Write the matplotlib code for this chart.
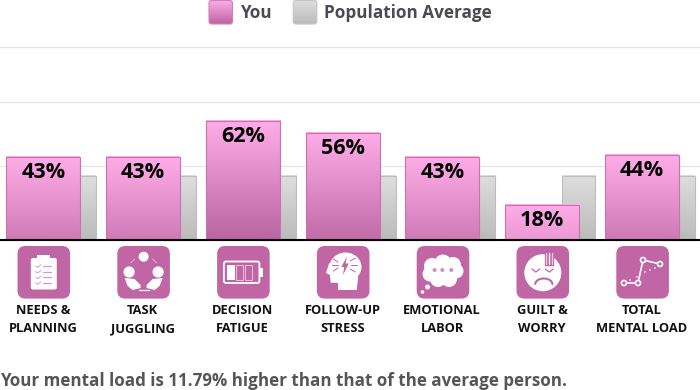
#!/usr/bin/python3
import numpy as np
import matplotlib
matplotlib.use("Agg")
import matplotlib.pyplot as plt
from matplotlib.colors import LinearSegmentedColormap
from matplotlib.patches import Circle, Ellipse, FancyBboxPatch, Polygon, Rectangle

plt.rcParams['font.family'] = ['Open Sans', 'DejaVu Sans']

# data
categories = ["NEEDS &\nPLANNING", "TASK\nJUGGLING", "DECISION\nFATIGUE", "FOLLOW-UP\nSTRESS",
              "EMOTIONAL\nLABOR", "GUILT &\nWORRY", "TOTAL\nMENTAL LOAD"]
you = [43, 43, 62, 56, 43, 18, 44]
average = [33, 33, 33, 33, 33, 33, 33]
gridlines = [38.5, 72, 100.8]
series_names = ["You", "Population Average"]
summary = "Your mental load is 11.79% higher than that of the average person."

PINK = '#c066a5'
pink_map = LinearSegmentedColormap.from_list("pink", ['#ffade8', '#bb65a2'])
grey_map = LinearSegmentedColormap.from_list("grey", ['#dedede', '#bbbbbb'])

fig = plt.figure(figsize=(7, 3.9), dpi=100)

# A. main axes, scaled so 1 category = 99.8 px and 1 % = 1.91 px
ax = fig.add_axes([0, 0, 1, 1])
xlim = (-43.3 / 99.8, (700 - 43.3) / 99.8)
ylim = (-(390 - 239.5) / 1.91, 239.5 / 1.91)
ax.axis('off')


def gradient_bar(x0, x1, value, cmap, stop, edge, z):
    grad = np.linspace(0, stop, 128).reshape(-1, 1)
    ax.imshow(grad, extent=(x0, x1, 0, value), aspect='auto', cmap=cmap, vmin=0, vmax=1,
              origin='upper', zorder=z, interpolation='bilinear')
    ax.add_patch(Rectangle((x0, 0), x1 - x0, value, fill=False, edgecolor=edge, lw=0.8, zorder=z + 0.1))


for g in gridlines:
    ax.axhline(g, color='#e3e3e3', lw=0.9, zorder=1)

you_w = 74 / 99.8
avg_w = 33 / 99.8
avg_off = 36.4 / 99.8
for i, (y, a) in enumerate(zip(you, average)):
    gradient_bar(i + avg_off - avg_w / 2, i + avg_off + avg_w / 2, a, grey_map, 1, '#bdbdbd', 2)
    gradient_bar(i - you_w / 2, i + you_w / 2, y, pink_map, y / 62, '#c873b0', 3)
    ax.text(i, y - 8.1, f"{y}%", ha='center', va='center', fontsize=15.6, fontweight='bold',
            color='black', zorder=5)

ax.axhline(0, color='black', lw=1.5, zorder=6)
ax.set_xlim(xlim)
ax.set_ylim(ylim)

# B. overlay in pixel coordinates for legend, icons and captions
ov = fig.add_axes([0, 0, 1, 1], facecolor='none')
ov.set_xlim(0, 700)
ov.set_ylim(390, 0)
ov.axis('off')


def swatch(x, cmap, edge):
    box = FancyBboxPatch((x, 0.5), 23.5, 23.5, boxstyle="round,pad=0,rounding_size=2.5",
                         fill=False, edgecolor=edge, lw=0.8, zorder=3)
    ov.add_patch(box)
    img = ov.imshow(np.linspace(0, 1, 64).reshape(-1, 1), extent=(x, x + 23.5, 24, 0.5), aspect='auto',
                    cmap=cmap, vmin=0, vmax=1, origin='upper', zorder=2)
    img.set_clip_path(box)


swatch(209, pink_map, '#d080b8')
swatch(293.3, grey_map, '#c4c4c4')
ov.text(240, 13.5, series_names[0], va='center', fontsize=12.35, fontweight='bold', color='#4a4a55')
ov.text(324, 13.5, series_names[1], va='center', fontsize=12.35, fontweight='bold', color='#4a4a55')


def w(patch):
    patch.set_facecolor('white')
    patch.set_edgecolor('none')
    patch.set_zorder(3)
    ov.add_patch(patch)


def stroke(xs, ys, lw=1.2, color='white'):
    ov.plot(xs, ys, color=color, lw=lw, zorder=4, solid_capstyle='round')


def icon_clipboard(c):
    w(FancyBboxPatch((c - 13, 258), 26, 31.5, boxstyle="round,pad=0,rounding_size=2"))
    w(Rectangle((c - 6.5, 254.5), 13, 5))
    for k in range(4):
        y = 266 + k * 5.7
        stroke([c - 8, c - 6, c - 3], [y, y + 1.3, y - 1.3], 0.7, '#d79ac4')
        stroke([c - 0.5, c + 7], [y, y], 0.9, '#d79ac4')


def icon_juggling(c):
    w(Circle((c, 256.7), 5))
    w(Circle((c - 14.5, 272), 5.6))
    w(Circle((c + 14.5, 272), 5.6))
    w(Polygon([(c - 19, 278), (c - 9, 279), (c - 3, 285), (c - 3, 288), (c - 11, 290), (c - 16, 286)]))
    w(Polygon([(c + 19, 278), (c + 9, 279), (c + 3, 285), (c + 3, 288), (c + 11, 290), (c + 16, 286)]))
    stroke([c - 5, c + 5], [290, 290], 0.9)
    stroke([c - 13, c - 9], [263, 259], 0.6, '#e3bcd8')
    stroke([c + 13, c + 9], [263, 259], 0.6, '#e3bcd8')


def icon_battery(c):
    ov.add_patch(FancyBboxPatch((c - 19.5, 261.5), 35.5, 21.5, boxstyle="round,pad=0,rounding_size=2",
                                fill=False, edgecolor='white', lw=1.3, zorder=3))
    w(Rectangle((c + 16, 268), 3.5, 9))
    w(Rectangle((c - 16, 265), 7.5, 15))
    for dx in (-7, 2):
        ov.add_patch(Rectangle((c + dx, 265), 7, 15, fill=False, edgecolor='#e3bcd8', lw=0.8, zorder=3))


def icon_head(c):
    w(Ellipse((c + 2.3, 267), 32, 29))
    w(Polygon([(c - 14, 263), (c - 17.2, 273), (c - 13.2, 275), (c - 12.5, 282.7), (c - 5.2, 283),
               (c - 5.2, 290), (c + 13.5, 290), (c + 15, 277)]))
    ov.add_patch(Polygon([(c + 3.8, 256.7), (c - 2, 267), (c + 1, 267), (c - 0.2, 275), (c + 5.5, 263.5), (c + 2.3, 263.5)],
                         facecolor=PINK, edgecolor='none', zorder=4))
    stroke([c - 10, c - 5], [259, 262], 0.7, PINK)
    stroke([c - 11, c - 5], [265, 265], 0.7, PINK)
    stroke([c - 10, c - 5], [271, 268], 0.7, PINK)
    stroke([c + 7, c + 12], [261, 258], 0.7, PINK)
    stroke([c + 8, c + 14], [265, 265], 0.7, PINK)
    stroke([c + 7, c + 12], [269, 272], 0.7, PINK)


def icon_cloud(c):
    for dx, dy, r in [(-11, 266, 8), (0, 263, 8.5), (10, 265, 8), (-13, 274, 7.5), (13, 271, 7.5), (-5, 279, 8), (6, 279, 8), (0, 271, 9)]:
        w(Circle((c + dx, dy), r))
    w(Circle((c - 15.5, 287), 2.5))
    w(Circle((c - 20.5, 292), 1.8))
    for dx in (-8.4, -0.7, 8.3):
        ov.add_patch(Circle((c + dx, 270), 2, facecolor='#d58fc0', edgecolor='none', zorder=4))


def icon_face(c):
    w(Circle((c, 272.7), 18.5))
    for dx in (-7, 6.5):
        stroke([c + dx - 4, c + dx, c + dx + 4], [269, 272, 269], 0.9, PINK)
    t = np.linspace(np.pi, 2 * np.pi, 20)
    stroke(c + 1 + 8.5 * np.cos(t), 284 + 5.5 * np.sin(t), 1.5, PINK)
    for dx in (3.5, 6, 8.7):
        ov.plot([c + dx, c + dx], [252.5, 264], color=PINK, lw=2.4, zorder=3.5)
    for dx, col in ((3.5, '#e8c6de'), (6.2, 'white'), (8.9, '#e8c6de')):
        stroke([c + dx, c + dx], [253, 264], 1.0, col)


def icon_scatter(c):
    pts_x = [c - 18.6, c - 4.6, c + 0.4, c + 17.4]
    pts_y = [283, 283, 260, 264]
    stroke(pts_x, pts_y, 1.2)
    for x, y in zip(pts_x, pts_y):
        ov.add_patch(Circle((x, y), 2.5, facecolor=PINK, edgecolor='white', lw=1.2, zorder=5))
    for x, y in [(c - 12.6, 280), (c - 5.6, 277), (c + 2.4, 272), (c + 7.4, 270), (c + 12.4, 268)]:
        w(Circle((x, y), 0.8))


icons = [icon_clipboard, icon_juggling, icon_battery, icon_head, icon_cloud, icon_face, icon_scatter]
for i, (cat, icon) in enumerate(zip(categories, icons)):
    c = 43.8 + 99.8 * i
    ov.add_patch(FancyBboxPatch((c - 26.3, 246), 52.6, 52.6, boxstyle="round,pad=0,rounding_size=8",
                                facecolor=PINK, edgecolor='none', zorder=2))
    icon(c)
    first, second = cat.split("\n")
    ov.text(c - 0.8, 310.5, first, ha='center', va='center', fontsize=9.25, fontweight='bold', color='#111111')
    ov.text(c - 0.8, 328.5, second, ha='center', va='center', fontsize=9.25, fontweight='bold', color='#111111')

ov.text(0, 381, summary, va='center', fontsize=12.22, fontweight='bold', color='#555555')
ov.set_xlim(0, 700)
ov.set_ylim(390, 0)

fig.savefig("out.png", dpi=100)
